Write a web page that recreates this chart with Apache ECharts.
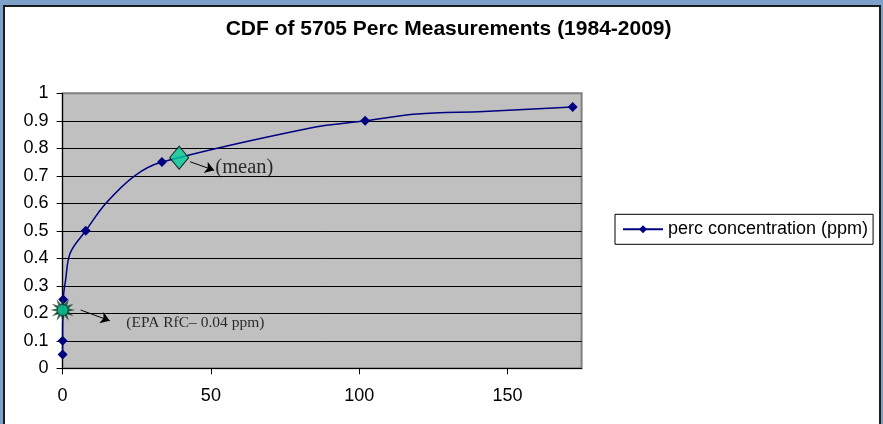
<!DOCTYPE html>
<html>
<head>
<meta charset="utf-8">
<script src="https://cdn.jsdelivr.net/npm/echarts@6/dist/echarts.min.js"></script>
<style>
  html, body { margin: 0; padding: 0; width: 883px; height: 424px; overflow: hidden; background: #7ea1ca; }
  #frame { position: absolute; left: 3px; top: 5px; width: 874px; height: 440px; border: 2px solid #1c1c1c; background: #fff; }
  #chart { width: 874px; height: 440px; }
</style>
</head>
<body>
<div id="frame"><div id="chart"></div></div>
<script>
// values
const percConc = [0, 0, 0.2, 1.0, 2.6, 7.8, 14.6, 24.3, 33.5, 84, 102, 119.5, 142, 172];
const cdfValues = [0.05, 0.1, 0.25, 0.32, 0.42, 0.5, 0.6, 0.7, 0.75, 0.875, 0.9, 0.925, 0.934, 0.95];
const hasMarker = [1, 1, 1, 0, 0, 1, 0, 0, 1, 0, 1, 0, 0, 1];
const meanPoint = [39.3, 0.766];
const rfcPoint = [0.04, 0.212];
const xTicks = [0, 50, 100, 150];

// annotations (data space)
const meanArrow = [[43, 0.751], [51.1, 0.72]];
const rfcArrow = [[6.1, 0.212], [15.9, 0.173]];
const meanText = [51.5, 0.729];
const rfcText = [21.5, 0.165];

const seriesName = 'perc concentration (ppm)';
const sans = 'Liberation Sans, Arial, sans-serif';
const serif = 'Liberation Serif, Times New Roman, serif';

// spiky "explosion" shape behind the RfC marker
const starPath = (() => {
  const n = 12;
  let d = '';
  for (let i = 0; i < n * 2; i++) {
    const r = i % 2 === 0 ? 50 : 24;
    const a = (Math.PI * i) / n - Math.PI / 2;
    d += (i === 0 ? 'M' : 'L') + (50 + r * Math.cos(a)).toFixed(2) + ' ' + (50 + r * Math.sin(a)).toFixed(2) + ' ';
  }
  return 'path://' + d + 'Z';
})();

const lineData = percConc.map((x, i) => ({
  value: [x, cdfValues[i]],
  symbol: hasMarker[i] ? 'diamond' : 'none',
}));

const chart = echarts.init(document.getElementById('chart'));
chart.setOption({
  animation: false,
  title: {
    text: 'CDF of 5705 Perc Measurements (1984-2009)',
    left: 438.6,
    top: 7,
    textAlign: 'center',
    textStyle: { fontFamily: sans, fontSize: 21, fontWeight: 'bold', color: '#000' },
  },
  legend: {
    data: [seriesName],
    left: 610,
    top: 207.3,
    orient: 'vertical',
    backgroundColor: '#fff',
    borderColor: '#000',
    borderWidth: 1,
    padding: [6, 5, 6, 7],
    itemWidth: 40,
    itemHeight: 10,
    textStyle: { fontFamily: sans, fontSize: 18, color: '#000' },
  },
  grid: {
    left: 57.6,
    top: 86.3,
    width: 519,
    height: 275,
    show: true,
    backgroundColor: '#c0c0c0',
    borderColor: '#808080',
    borderWidth: 2,
  },
  xAxis: {
    type: 'value',
    min: 0,
    max: 175,
    interval: 50,
    axisLine: { show: true, onZero: false, lineStyle: { color: '#000', width: 1 } },
    axisTick: { show: true, customValues: xTicks, length: 6, lineStyle: { color: '#000' } },
    axisLabel: { customValues: xTicks, fontFamily: sans, fontSize: 18, color: '#000', margin: 19 },
    splitLine: { show: false },
  },
  yAxis: {
    type: 'value',
    min: 0,
    max: 1,
    interval: 0.1,
    axisLine: { show: true, onZero: false, lineStyle: { color: '#000', width: 1 } },
    axisTick: { show: true, length: 6, lineStyle: { color: '#000' } },
    axisLabel: { fontFamily: sans, fontSize: 18, color: '#000', margin: 14 },
    splitLine: { show: true, showMaxLine: false, lineStyle: { color: '#000', width: 1 } },
  },
  series: [
    {
      name: seriesName,
      type: 'line',
      data: lineData,
      symbol: 'diamond',
      symbolSize: 10,
      smooth: 0.35,
      lineStyle: { color: '#000080', width: 1.5 },
      itemStyle: { color: '#000080' },
      z: 3,
    },
    {
      name: 'mean',
      type: 'scatter',
      data: [meanPoint],
      symbol: 'diamond',
      symbolSize: [19, 23],
      itemStyle: { color: '#00cc99', borderColor: '#000', borderWidth: 1 },
      z: 5,
    },
    {
      name: 'rfc-star',
      type: 'scatter',
      data: [rfcPoint],
      symbol: starPath,
      symbolSize: 25,
      itemStyle: { color: '#0d3b2c' },
      z: 4,
    },
    {
      name: 'rfc',
      type: 'scatter',
      data: [rfcPoint],
      symbol: 'circle',
      symbolSize: 11,
      itemStyle: { color: '#00cc99', borderColor: '#0d3b2c', borderWidth: 1 },
      z: 5,
    },
    {
      name: 'arrows',
      type: 'lines',
      coordinateSystem: 'cartesian2d',
      symbol: ['none', 'arrow'],
      symbolSize: 9,
      lineStyle: { color: '#000', width: 1, opacity: 1 },
      data: [{ coords: meanArrow }, { coords: rfcArrow }],
      silent: true,
      z: 6,
    },
    {
      name: 'notes',
      type: 'scatter',
      symbolSize: 0,
      silent: true,
      label: {
        show: true,
        position: 'right',
        distance: 0,
        fontFamily: serif,
        color: '#000',
      },
      data: [
        { value: meanText, label: { formatter: '(mean)', fontSize: 20.5 } },
        { value: rfcText, label: { formatter: '(EPA RfC\u2013 0.04 ppm)', fontSize: 15.5 } },
      ],
      z: 6,
    },
  ],
});
</script>
</body>
</html>
